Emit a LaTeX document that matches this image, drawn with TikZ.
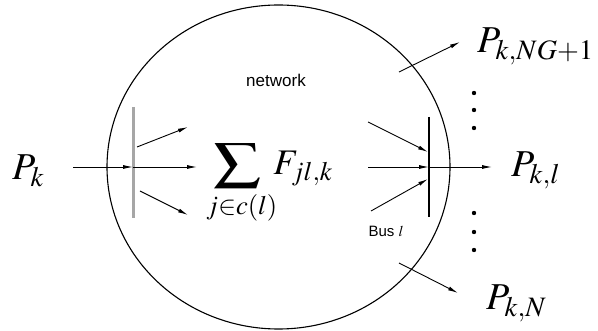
\documentclass[tikz,border=0pt]{standalone}
\usepackage{amsmath}
\usepackage{mathptmx}
\usepackage{fontspec}
\setsansfont{Liberation Sans}
\usetikzlibrary{arrows.meta}

\tikzset{
    flow/.style={-{Latex[length=10pt,width=4pt]},line width=0.9pt},
    biglabel/.style={inner sep=0pt,font=\fontsize{38}{44}\selectfont},
    smalllabel/.style={inner sep=0pt,font=\fontsize{17}{20}\selectfont\sffamily},
}
\newcommand{\widesum}{\mathop{\scalebox{1.3}[1]{\(\displaystyle\sum\)}}\limits}

\begin{document}
\begin{tikzpicture}[x=1pt,y=-1pt]
        \useasboundingbox (0,0) rectangle (598,331);
        \draw[line width=1.1pt] (278.5,167) ellipse [x radius=171.5,y radius=162];
        \node[smalllabel] (net) at (276,80) {network};
        \node[smalllabel,font=\fontsize{15}{18}\selectfont\sffamily] (busname) at (386,231) {Bus \(l\)};
        \draw[gray!70,line width=3pt] (133,107) -- (133,218);
        \draw[line width=2pt] (429,117) -- (429,217);
        \coordinate (busk) at (133,167);
        \coordinate (busl) at (429,167);
        \node[biglabel,anchor=base west] (pk) at (12,180) {\(P_k\)};
        \node[biglabel,anchor=base west,font=\fontsize{36}{40}\selectfont] (sum) at (206,175) {\(\displaystyle\widesum_{j\in c(l)}\!\! F_{jl,k}\)};
        \node[biglabel,anchor=base west] (pkl) at (511,177) {\(P_{k,l}\)};
        \node[biglabel,anchor=base west] (pkng) at (477,53) {\(P_{k,NG+1}\)};
        \node[biglabel,anchor=base west] (pkn) at (486,310) {\(P_{k,N}\)};
        \coordinate (kin) at (73,167);
        \coordinate (sumin) at (197,167);
        \coordinate (ku1) at (137,147);
        \coordinate (ku2) at (188,127);
        \coordinate (kd1) at (140,191);
        \coordinate (kd2) at (188,215);
        \coordinate (lu1) at (368,122);
        \coordinate (lu2) at (428,152);
        \coordinate (lm1) at (368,167);
        \coordinate (ld1) at (371,211);
        \coordinate (ld2) at (428,179);
        \coordinate (lout) at (492,167);
        \coordinate (ng1) at (399,72);
        \coordinate (ng2) at (460,42);
        \coordinate (nn1) at (399,263);
        \coordinate (nn2) at (458,293);
        \draw[flow] (kin) -- (busk);
        \draw[flow] (busk) -- (sumin);
        \draw[flow] (ku1) -- (ku2);
        \draw[flow] (kd1) -- (kd2);
        \draw[flow] (lu1) -- (lu2);
        \draw[flow] (lm1) -- (busl);
        \draw[flow] (ld1) -- (ld2);
        \draw[flow] (busl) -- (lout);
        \draw[flow] (ng1) -- (ng2);
        \draw[flow] (nn1) -- (nn2);
        \foreach \y in {93,110,128,213,232,250}
            \fill (474,\y) circle (2.2);
    \end{tikzpicture}
\end{document}
